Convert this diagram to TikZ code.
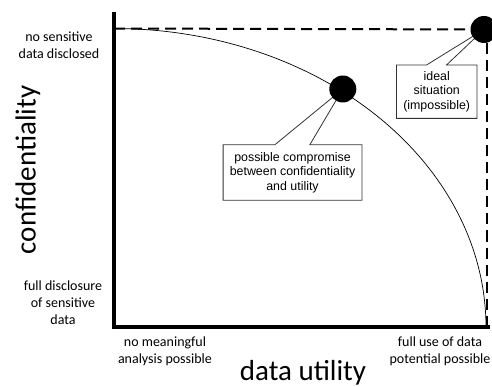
\documentclass[tikz,border=0pt]{standalone}
\usepackage{fontspec}
\newfontfamily\carl{Carlito}
\newfontfamily\arialf{Liberation Sans}
\usetikzlibrary{calc}
\begin{document}
\begin{tikzpicture}[x=1pt,y=-1pt,
  axislbl/.style={font=\carl\fontsize{14}{17}\selectfont, align=center, inner sep=0pt},
  bigtitle/.style={font=\carl\fontsize{29}{34}\selectfont, inner sep=0pt},
  boxtext/.style={font=\arialf\fontsize{12.4}{14.5}\selectfont, align=center, inner sep=0pt, text=black},
  dot/.style={circle, fill=black, minimum size=27pt, inner sep=0pt},
  dashline/.style={dash pattern=on 11pt off 6pt, line width=2pt},
  axisline/.style={line width=3.5pt},
  callout/.style={draw=black!80, line width=0.8pt, line join=miter},
  curveline/.style={line width=0.7pt}]
\useasboundingbox (0,0) rectangle (492,387);
% key points
\coordinate (O) at (114,327);
\coordinate (ytop) at (114,12);
\coordinate (xend) at (490,327);
\coordinate (tl) at (114,28.5);
\coordinate (br) at (486.5,327);
\coordinate (idealpt) at (484,29.5);
\coordinate (comppt) at (342.8,89);
% trade-off curve (quarter ellipse)
\draw[curveline] plot[domain=0:90, samples=80] ({114+372*cos(\x)}, {327-298.5*sin(\x)});
% dashed ideal boundary
\draw[dashline] (tl) -- (idealpt);
\draw[dashline] ($(idealpt -| br)+(0,14)$) -- (br);
% axes
\draw[axisline] (ytop) -- (O) -- (xend);
% callout boxes
\node[boxtext, minimum width=138.4pt, minimum height=55pt] (cbox) at (292.5,172.5)
  {possible compromise\\between confidentiality\\and utility};
\draw[callout] (cbox.north west) -- ($(cbox.north west)+(51.7,0)$) -- (comppt)
  -- ($(cbox.north west)+(86.7,0)$) -- (cbox.north east) -- (cbox.south east)
  -- (cbox.south west) -- cycle;
\node[boxtext, minimum width=80pt, minimum height=53pt] (ibox) at (436.7,91.7)
  {ideal\\situation\\(impossible)};
\draw[callout] (ibox.north west) -- ($(ibox.north west)+(30,0)$) -- (idealpt)
  -- ($(ibox.north west)+(50,0)$) -- (ibox.north east) -- (ibox.south east)
  -- (ibox.south west) -- cycle;
% points
\node[dot] (comp) at (comppt) {};
\node[dot] (ideal) at (idealpt) {};
% labels
\node[axislbl] (lbltop) at (59,45.5) {no sensitive\\data disclosed};
\node[axislbl] (lblbot) at (63,303) {full disclosure\\of sensitive\\data};
\node[axislbl] (lblx0) at (165,351) {no meaningful\\analysis possible};
\node[axislbl] (lblx1) at (440,351) {full use of data\\potential possible};
\node[bigtitle, rotate=90] (ylabel) at (28,170) {confidentiality};
\node[bigtitle] (xlabel) at (303,373) {data utility};
\end{tikzpicture}
\end{document}
